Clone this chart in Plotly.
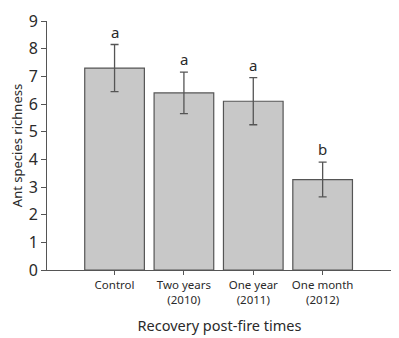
import plotly.graph_objects as go

categories = ["Control", "Two years<br>(2010)", "One year<br>(2011)", "One month<br>(2012)"]
richness = [7.3, 6.4, 6.1, 3.27]
error = [0.85, 0.75, 0.85, 0.63]
letters = ["a", "a", "a", "b"]
y_ticks = list(range(0, 10))

FONT = "Noto Sans"
AXC = "#555555"
TXT = "#2a2a2a"

fig = go.Figure()
fig.add_trace(go.Bar(
    x=list(range(len(categories))),
    y=richness,
    marker=dict(color="#c8c8c8", line=dict(color="#555555", width=1.2)),
    error_y=dict(type="data", array=error, visible=True, color="#555555", thickness=1.3, width=4),
    width=0.86,
    showlegend=False,
))

for i, (v, e, l) in enumerate(zip(richness, error, letters)):
    fig.add_annotation(x=i, y=v + e, text=l, showarrow=False, yanchor="bottom", yshift=1,
                       font=dict(family=FONT, size=15, color=TXT))

# page body has an 8px default margin; figure size/margins compensate for it
fig.update_layout(
    width=391, height=330,
    margin=dict(l=39, r=7, t=13, b=68),
    paper_bgcolor="white", plot_bgcolor="white",
    font=dict(family=FONT, color=TXT),
    xaxis=dict(
        range=[-0.974, 4.0], tickmode="array", tickvals=list(range(len(categories))), ticktext=categories,
        ticks="outside", ticklen=4, tickcolor=AXC, showline=True, linecolor=AXC, linewidth=1,
        showgrid=False, zeroline=False, automargin=False,
        tickfont=dict(size=11.5, family=FONT, color=TXT),
        title=dict(text="Recovery post-fire times", font=dict(size=14.5, family=FONT, color=TXT), standoff=15),
    ),
    yaxis=dict(
        range=[0, 9], tickvals=y_ticks, ticks="outside", ticklen=5, tickcolor=AXC,
        showline=True, linecolor=AXC, linewidth=1, showgrid=False, zeroline=False, automargin=False,
        tickfont=dict(size=16, family=FONT, color=TXT),
        title=dict(text="Ant species richness", font=dict(size=13, family=FONT, color=TXT), standoff=11),
    ),
)

fig.write_html("out.html")
